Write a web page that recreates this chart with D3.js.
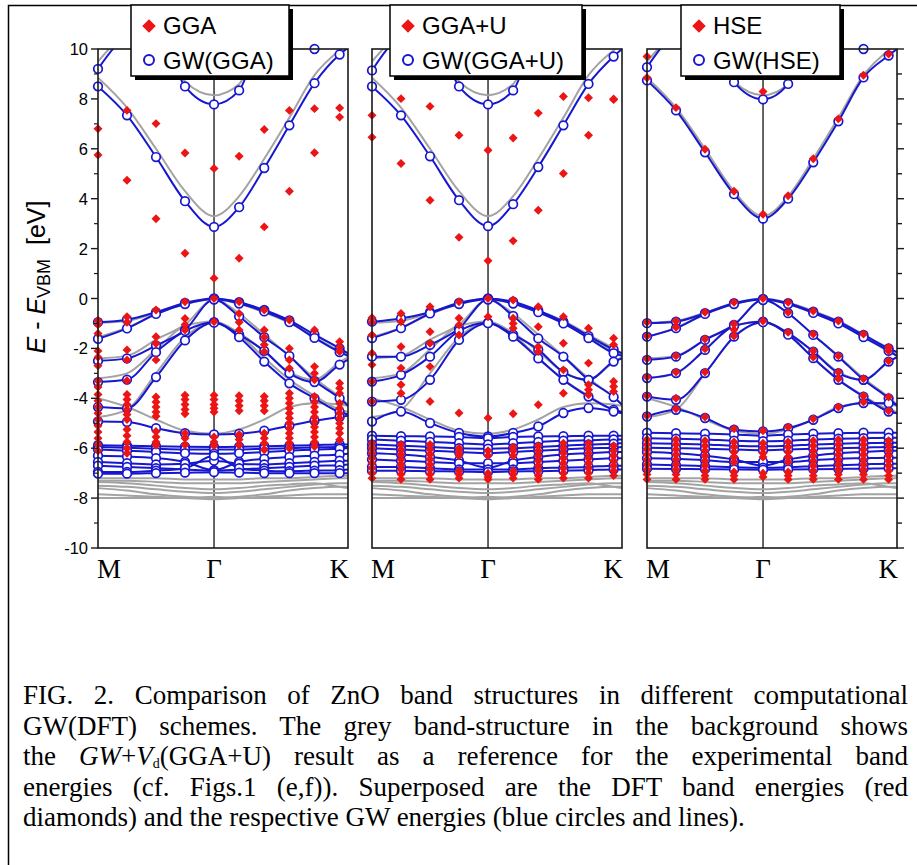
<!DOCTYPE html>
<html>
<head>
<meta charset="utf-8">
<script src="https://cdn.jsdelivr.net/npm/d3@7"></script>
<style>
  body { margin: 0; background: #fff; }
  svg { display: block; }
</style>
</head>
<body>
<div class="chart"></div>
<script>
// ZnO band structures, M - Gamma - K, three GW(DFT) schemes

// k positions along the path (units of |Gamma-M|), last one is K itself
const kpos = [0, 0.25, 0.5, 0.75, 1, 1.2165, 1.433, 1.6495, 1.866, 2.0825, 2.1547]
const kLabels = ['M', 'Γ', 'K']
const kLabelPos = [0, 1, 2.1547]
const yTicks = [-10, -8, -6, -4, -2, 0, 2, 4, 6, 8, 10]
const yMinor = [-9, -7, -5, -3, -1, 1, 3, 5, 7, 9]

// grey background: GW+Vd(GGA+U) reference bands
const refBands = [
  [8.85, 7.65, 6.0, 4.3, 3.3, 4.1, 5.6, 7.25, 8.95, 9.95, 10.2],
  [9.5, 10.6, 10.9, 8.7, 8.15, 8.6, 10.5, 10.9, 10.3, 10.25, 10.2],
  [-0.97, -0.9, -0.57, -0.18, 0, -0.17, -0.5, -0.9, -1.45, -2.0, -2.2],
  [-1.55, -1.17, -0.63, -0.22, -0.03, -0.21, -0.56, -0.98, -1.55, -2.12, -2.3],
  [-2.4, -2.3, -1.65, -1.05, -0.05, -0.6, -1.45, -2.3, -3.2, -3.95, -4.25],
  [-3.2, -3.0, -2.05, -1.1, -0.92, -1.38, -2.12, -2.95, -3.25, -2.55, -2.35],
  [-4.75, -4.45, -3.0, -1.55, -0.94, -1.45, -2.38, -3.25, -3.9, -4.45, -4.55],
  [-4.0, -4.35, -4.85, -5.3, -5.42, -5.25, -4.85, -4.35, -4.2, -4.25, -4.3],
  [-7.2, -7.2, -7.2, -7.25, -7.25, -7.25, -7.2, -7.2, -7.15, -7.1, -7.1],
  [-7.3, -7.3, -7.35, -7.4, -7.4, -7.4, -7.35, -7.3, -7.25, -7.2, -7.2],
  [-7.35, -7.4, -7.5, -7.6, -7.65, -7.6, -7.5, -7.45, -7.4, -7.55, -7.6],
  [-7.5, -7.55, -7.65, -7.75, -7.8, -7.75, -7.65, -7.55, -7.45, -7.4, -7.4],
  [-7.6, -7.7, -7.85, -7.95, -8.0, -7.95, -7.85, -7.7, -7.6, -7.55, -7.55],
  [-7.85, -7.9, -7.95, -8.0, -8.05, -8.0, -7.95, -7.9, -7.85, -7.85, -7.85],
  [-8.0, -8.0, -8.0, -8.0, -7.95, -8.0, -8.0, -8.0, -8.0, -8.0, -8.0]
]

// GW(GGA) bands (blue)
const ggaGW = [
  [8.5, 7.34, 5.67, 3.9, 2.87, 3.66, 5.23, 6.94, 8.63, 9.78, 10.05],
  [9.2, 10.5, 10.8, 8.5, 7.78, 8.34, 10.6, 10.8, 10.0, 10.3, 10.2],
  [-0.95, -0.85, -0.55, -0.18, 0, -0.15, -0.46, -0.88, -1.45, -2.0, -2.2],
  [-1.62, -1.2, -0.62, -0.22, -0.02, -0.2, -0.52, -0.95, -1.58, -2.15, -2.3],
  [-2.5, -2.4, -1.88, -1.26, -0.04, -0.72, -1.55, -2.3, -3.3, -4.0, -4.3],
  [-3.35, -3.25, -2.15, -1.3, -0.95, -1.45, -2.1, -3.0, -3.35, -2.65, -2.45],
  [-4.35, -4.4, -3.15, -1.68, -0.97, -1.55, -2.53, -3.4, -4.0, -4.55, -4.65],
  [-4.93, -4.95, -5.2, -5.4, -5.45, -5.42, -5.3, -5.1, -4.9, -4.75, -4.7],
  [-5.88, -5.9, -5.92, -5.94, -5.95, -5.94, -5.92, -5.9, -5.88, -5.85, -5.85],
  [-5.95, -5.98, -6.02, -6.05, -6.05, -6.05, -6.02, -6.0, -5.97, -5.95, -5.95],
  [-6.05, -6.1, -6.15, -6.2, -6.22, -6.2, -6.15, -6.1, -6.05, -6.02, -6.0],
  [-6.3, -6.33, -6.4, -6.55, -6.88, -6.55, -6.42, -6.35, -6.3, -6.25, -6.22],
  [-6.55, -6.6, -6.65, -6.62, -6.5, -6.62, -6.65, -6.6, -6.55, -6.5, -6.5],
  [-6.7, -6.75, -6.8, -6.85, -6.9, -6.85, -6.8, -6.75, -6.7, -6.68, -6.65],
  [-6.95, -6.95, -6.9, -6.8, -6.3, -6.8, -6.9, -6.92, -6.9, -6.88, -6.85],
  [-7.02, -7.02, -7.0, -6.98, -6.96, -6.98, -7.0, -7.0, -7.0, -7.0, -7.0]
]

// GGA band energies (red), one list per k point
const ggaDFT = [
  [6.8, 5.75, -0.88, -1.05, -1.4, -2.1, -2.35, -2.7, -3.3, -3.55, -3.85, -4.1, -4.35, -4.6, -4.85, -5.1, -5.35, -5.6, -5.85, -6.1],
  [7.54, 4.74, -0.73, -0.95, -2.06, -2.46, -3.3, -3.85, -4.05, -4.25, -4.45, -4.65, -4.85, -5.25, -5.5, -5.75, -6.0, -6.2],
  [7.01, 3.2, -0.46, -1.53, -1.8, -2.46, -3.95, -4.15, -4.35, -4.55, -4.72, -5.33, -5.55, -5.75, -5.88],
  [5.83, 1.81, -0.13, -0.8, -1.05, -1.26, -3.88, -4.05, -4.25, -4.45, -4.62, -5.4, -5.6, -5.86],
  [5.21, 0.81, 0, -0.93, -3.88, -4.05, -4.25, -4.4, -4.55, -5.55, -5.75, -5.9],
  [5.7, 1.61, -0.13, -0.6, -0.95, -1.26, -3.9, -4.1, -4.3, -4.5, -5.45, -5.65, -5.88],
  [6.77, 2.87, -0.46, -1.26, -1.55, -1.85, -2.13, -3.93, -4.1, -4.3, -4.5, -5.4, -5.6, -5.8, -6.06],
  [7.54, 4.3, -0.86, -2.0, -2.46, -2.8, -3.8, -4.0, -4.2, -4.4, -4.6, -4.8, -5.0, -5.2, -5.4, -5.6, -5.8, -6.0],
  [7.61, 5.84, -1.26, -2.73, -3.0, -3.26, -3.93, -4.15, -4.35, -4.55, -4.75, -4.95, -5.15, -5.35, -5.55, -5.75, -5.93],
  [7.64, 7.27, -1.73, -1.95, -2.13, -3.4, -3.6, -3.8, -4.2, -4.4, -4.6, -4.8, -5.0, -5.2, -5.4, -5.66]
]

// GW(GGA+U) bands
const ggauGW = [
  [8.5, 7.34, 5.7, 3.94, 2.9, 3.78, 5.27, 6.94, 8.6, 9.7, 10.0],
  [9.14, 10.5, 10.8, 8.5, 7.78, 8.34, 10.6, 10.8, 10.3, 10.2, 10.2],
  [-0.93, -0.8, -0.55, -0.18, 0, -0.13, -0.48, -0.93, -1.5, -2.05, -2.2],
  [-1.59, -1.19, -0.6, -0.22, -0.02, -0.2, -0.55, -1.0, -1.59, -2.19, -2.3],
  [-2.33, -2.33, -1.86, -1.2, -0.04, -0.7, -1.6, -2.33, -3.26, -3.95, -4.26],
  [-3.33, -3.06, -2.33, -1.3, -0.97, -1.45, -2.05, -2.95, -3.26, -2.53, -2.4],
  [-4.13, -4.06, -3.26, -1.66, -0.99, -1.53, -2.4, -3.26, -3.93, -4.46, -4.55],
  [-4.93, -4.53, -4.99, -5.39, -5.53, -5.39, -5.13, -4.59, -4.39, -4.53, -4.6],
  [-5.5, -5.52, -5.53, -5.55, -5.6, -5.55, -5.53, -5.52, -5.5, -5.5, -5.5],
  [-5.65, -5.7, -5.75, -5.8, -5.85, -5.8, -5.75, -5.7, -5.68, -5.65, -5.65],
  [-5.85, -5.9, -5.95, -6.0, -6.02, -6.0, -5.95, -5.9, -5.85, -5.82, -5.8],
  [-6.0, -6.05, -6.1, -6.15, -6.2, -6.15, -6.1, -6.05, -6.0, -5.98, -5.95],
  [-6.2, -6.25, -6.35, -6.5, -6.78, -6.5, -6.35, -6.25, -6.2, -6.15, -6.15],
  [-6.45, -6.5, -6.55, -6.6, -6.6, -6.6, -6.55, -6.5, -6.45, -6.4, -6.4],
  [-6.75, -6.75, -6.8, -6.85, -6.85, -6.85, -6.8, -6.78, -6.75, -6.7, -6.7],
  [-6.9, -6.9, -6.92, -6.93, -6.95, -6.93, -6.92, -6.9, -6.88, -6.85, -6.85]
]

// GGA+U band energies
const ggauDFT = [
  [7.34, 6.46, -0.77, -0.95, -1.46, -2.19, -2.66, -3.33, -4.13, -5.8, -6.0, -6.2, -6.4, -6.6, -6.8, -7.0, -7.2],
  [8.01, 5.41, -0.6, -0.93, -1.93, -2.79, -3.46, -3.8, -5.85, -6.05, -6.25, -6.45, -6.65, -6.85, -7.05, -7.25],
  [7.7, 3.94, -0.33, -1.33, -1.79, -2.73, -4.13, -5.85, -6.05, -6.25, -6.45, -6.65, -6.85, -7.05, -7.25],
  [6.54, 2.45, -0.13, -0.79, -1.06, -1.46, -4.59, -6.0, -6.15, -6.3, -6.9, -7.05, -7.2],
  [5.94, 1.51, 0, -0.73, -4.79, -6.1, -6.3, -7.0, -7.15, -7.25],
  [6.43, 2.31, -0.06, -0.79, -1.0, -1.19, -4.62, -5.95, -6.1, -6.3, -6.9, -7.05, -7.2],
  [7.43, 3.54, -0.33, -1.13, -1.93, -2.13, -4.26, -5.9, -6.1, -6.3, -6.5, -6.7, -6.9, -7.1, -7.25],
  [8.1, 5.01, -0.73, -1.79, -2.86, -3.8, -5.8, -6.0, -6.2, -6.4, -6.6, -6.8, -7.0, -7.2],
  [8.05, 6.54, -1.19, -2.59, -3.46, -3.66, -3.86, -5.8, -6.0, -6.2, -6.4, -6.6, -6.8, -7.0, -7.2],
  [7.97, 8.0, -1.59, -1.85, -3.33, -3.53, -3.73, -5.9, -6.1, -6.3, -6.5, -6.7, -6.9, -7.1]
]

// GW(HSE) bands
const hseGW = [
  [8.74, 7.54, 5.86, 4.18, 3.2, 4.0, 5.46, 7.1, 8.86, 9.74, 10.0],
  [9.27, 10.6, 10.9, 8.67, 7.98, 8.6, 10.6, 10.8, 10.0, 10.3, 10.2],
  [-0.99, -0.93, -0.59, -0.19, -0.02, -0.19, -0.53, -0.93, -1.46, -2.0, -2.15],
  [-1.53, -1.19, -0.62, -0.22, -0.04, -0.22, -0.58, -1.0, -1.55, -2.1, -2.3],
  [-2.46, -2.33, -1.66, -1.06, -0.06, -0.59, -1.46, -2.33, -3.26, -4.0, -4.3],
  [-3.19, -2.99, -2.06, -1.1, -0.93, -1.39, -2.13, -2.99, -3.26, -2.53, -2.35],
  [-3.93, -4.06, -2.99, -1.53, -0.95, -1.45, -2.39, -3.26, -3.93, -4.53, -4.6],
  [-4.73, -4.46, -4.79, -5.26, -5.33, -5.2, -4.86, -4.39, -4.19, -4.2, -4.25],
  [-5.38, -5.4, -5.42, -5.45, -5.5, -5.45, -5.42, -5.4, -5.38, -5.38, -5.38],
  [-5.6, -5.62, -5.65, -5.7, -5.72, -5.7, -5.65, -5.62, -5.6, -5.58, -5.58],
  [-5.8, -5.82, -5.85, -5.9, -5.92, -5.9, -5.85, -5.82, -5.8, -5.78, -5.78],
  [-5.98, -6.0, -6.02, -6.05, -6.08, -6.05, -6.02, -6.0, -5.98, -5.95, -5.95],
  [-6.15, -6.2, -6.3, -6.45, -6.7, -6.45, -6.3, -6.2, -6.15, -6.1, -6.1],
  [-6.4, -6.42, -6.48, -6.55, -6.55, -6.55, -6.48, -6.42, -6.4, -6.38, -6.38],
  [-6.65, -6.68, -6.72, -6.76, -6.78, -6.76, -6.72, -6.68, -6.65, -6.62, -6.62],
  [-6.82, -6.83, -6.84, -6.85, -6.86, -6.85, -6.84, -6.83, -6.82, -6.8, -6.8]
]

// HSE band energies
const hseDFT = [
  [8.85, 9.7, -0.95, -1.5, -2.42, -3.15, -3.9, -4.7, -5.65, -5.85, -6.05, -6.25, -6.45, -6.65, -6.85, -7.05, -7.25],
  [7.65, -0.9, -1.15, -2.3, -2.95, -4.0, -4.42, -5.65, -5.85, -6.05, -6.25, -6.45, -6.65, -6.85, -7.05, -7.25],
  [5.98, -0.55, -1.62, -2.02, -2.95, -4.75, -5.7, -5.9, -6.1, -6.3, -6.5, -6.7, -6.9, -7.1, -7.25],
  [4.3, -0.15, -1.02, -1.25, -1.5, -5.22, -5.75, -5.95, -6.15, -6.35, -6.55, -6.95, -7.1, -7.25],
  [3.38, 8.3, 0, -0.9, -5.3, -5.8, -6.0, -6.2, -6.35, -7.0, -7.15],
  [4.12, -0.15, -0.55, -1.35, -5.15, -5.75, -5.95, -6.15, -6.35, -6.55, -6.95, -7.1, -7.25],
  [5.6, -0.5, -1.42, -2.1, -2.35, -4.82, -5.7, -5.9, -6.1, -6.3, -6.5, -6.7, -6.9, -7.1, -7.25],
  [7.2, -0.9, -2.3, -2.95, -3.22, -4.35, -5.65, -5.85, -6.05, -6.25, -6.45, -6.65, -6.85, -7.05, -7.25],
  [8.95, -1.42, -3.22, -3.9, -4.15, -5.65, -5.85, -6.05, -6.25, -6.45, -6.65, -6.85, -7.05, -7.25],
  [9.8, -1.95, -2.1, -2.5, -3.95, -4.5, -5.7, -5.9, -6.1, -6.3, -6.5, -6.7, -6.9, -7.1, -7.25]
]

const dftNames = ['GGA', 'GGA+U', 'HSE']
const gwNames = ['GW(GGA)', 'GW(GGA+U)', 'GW(HSE)']

const caption = [
  [{t: 'FIG. 2. Comparison of ZnO band structures in different computational'}],
  [{t: 'GW(DFT) schemes. The grey band-structure in the background shows'}],
  [{t: 'the '}, {t: 'GW', i: true}, {t: '+'}, {t: 'V', i: true}, {t: 'd', sub: true},
   {t: '(GGA+U) result as a reference for the experimental band'}],
  [{t: 'energies (cf. Figs.1 (e,f)). Superposed are the DFT band energies (red'}],
  [{t: 'diamonds) and the respective GW energies (blue circles and lines).'}]
]

const BLUE = '#1717cf'
const RED = '#ec1515'
const GREY = '#a3a3a3'
const SANS = '"Liberation Sans", Arial, sans-serif'
const SERIF = '"Liberation Serif", "Times New Roman", serif'

const svgWidth = 917
const svgHeight = 865
const panelW = 250
const panelH = 499
const panelTop = 49
const panelLefts = [98, 372, 647]
const legendBoxes = [
  {x: 131, w: 158},
  {x: 390, w: 192},
  {x: 681, w: 159}
]

const svg = d3.select('.chart')
  .append('svg')
  .attr('width', svgWidth)
  .attr('height', svgHeight)

svg.append('rect').attr('width', svgWidth).attr('height', svgHeight).attr('fill', '#fff')

// outer figure frame (top and left edges only are visible)
svg.append('path')
  .attr('d', `M8.5,${svgHeight} V5.5 H${svgWidth}`)
  .attr('fill', 'none')
  .attr('stroke', '#000')
  .attr('stroke-width', 1.5)

const xScale = d3.scaleLinear().domain([0, 2.1547]).range([0, panelW])
const yScale = d3.scaleLinear().domain([-10, 10]).range([panelH, 0])

const bandLine = d3.line()
  .x((d, i) => xScale(kpos[i]))
  .y(d => yScale(d))
  .curve(d3.curveMonotoneX)

const diamond = d3.symbol().type(d3.symbolSquare).size(40)
const bigDiamond = d3.symbol().type(d3.symbolSquare).size(92)

const gwSets = [ggaGW, ggauGW, hseGW]
const dftSets = [ggaDFT, ggauDFT, hseDFT]

gwSets.forEach((gw, p) => {
  const dft = dftSets[p]
  const g = svg.append('g')
    .attr('transform', `translate(${panelLefts[p]}, ${panelTop})`)

  g.append('clipPath').attr('id', `clip${p}`)
    .append('rect').attr('width', panelW).attr('height', panelH)

  // Gamma line
  g.append('line')
    .attr('x1', xScale(1)).attr('x2', xScale(1))
    .attr('y1', 0).attr('y2', panelH)
    .attr('stroke', '#111').attr('stroke-width', 1.3)

  const lines = g.append('g').attr('clip-path', `url(#clip${p})`)

  lines.selectAll('.ref')
    .data(refBands)
    .enter()
    .append('path')
    .attr('d', bandLine)
    .attr('fill', 'none')
    .attr('stroke', GREY)
    .attr('stroke-width', 2)

  lines.selectAll('.gw')
    .data(gw)
    .enter()
    .append('path')
    .attr('d', bandLine)
    .attr('fill', 'none')
    .attr('stroke', BLUE)
    .attr('stroke-width', 2)

  // circles on the k mesh (K itself is not a mesh point)
  const circles = []
  gw.forEach(band => band.slice(0, 10).forEach((e, i) => {
    if (e <= 10.1) circles.push({k: kpos[i], e: e})
  }))
  g.selectAll('circle')
    .data(circles)
    .enter()
    .append('circle')
    .attr('cx', d => xScale(d.k))
    .attr('cy', d => yScale(d.e))
    .attr('r', 4.3)
    .attr('fill', '#fff')
    .attr('stroke', BLUE)
    .attr('stroke-width', 1.7)

  const reds = []
  dft.forEach((col, i) => col.forEach(e => reds.push({k: kpos[i], e: e})))
  g.selectAll('.dft')
    .data(reds)
    .enter()
    .append('path')
    .attr('d', diamond)
    .attr('transform', d => `translate(${xScale(d.k)}, ${yScale(d.e)}) rotate(45)`)
    .attr('fill', RED)

  // panel frame
  g.append('rect')
    .attr('width', panelW).attr('height', panelH)
    .attr('fill', 'none')
    .attr('stroke', '#1a1a1a')
    .attr('stroke-width', 1.6)

  // k labels
  kLabels.forEach((lab, i) => {
    g.append('text')
      .attr('x', xScale(kLabelPos[i]) + (i === 0 ? -1 : i === 2 ? 1 : 0))
      .attr('y', 529)
      .attr('text-anchor', i === 0 ? 'start' : i === 2 ? 'end' : 'middle')
      .attr('font-family', SERIF)
      .attr('font-size', '27px')
      .text(lab)
  })

  // legend with drop shadow
  const lb = legendBoxes[p]
  const lg = svg.append('g')
  lg.append('rect')
    .attr('x', lb.x + 4).attr('y', 9)
    .attr('width', lb.w).attr('height', 71)
    .attr('fill', '#000')
  lg.append('rect')
    .attr('x', lb.x).attr('y', 5)
    .attr('width', lb.w).attr('height', 71)
    .attr('fill', '#fff')
    .attr('stroke', '#000')
    .attr('stroke-width', 1.5)
  lg.append('path')
    .attr('d', bigDiamond)
    .attr('transform', `translate(${lb.x + 18}, 26) rotate(45)`)
    .attr('fill', RED)
  lg.append('circle')
    .attr('cx', lb.x + 18).attr('cy', 60)
    .attr('r', 5)
    .attr('fill', '#fff')
    .attr('stroke', BLUE)
    .attr('stroke-width', 2)
  lg.append('text')
    .attr('x', lb.x + 32).attr('y', 34)
    .attr('font-family', SANS).attr('font-size', '24px')
    .text(dftNames[p])
  lg.append('text')
    .attr('x', lb.x + 32).attr('y', 69)
    .attr('font-family', SANS).attr('font-size', '24px')
    .text(gwNames[p])
})

// left energy axis on first panel
const axisG = svg.append('g')
  .attr('transform', `translate(${panelLefts[0]}, ${panelTop})`)
axisG.selectAll('.maj')
  .data(yTicks)
  .enter()
  .append('line')
  .attr('x1', -7).attr('x2', 0)
  .attr('y1', d => yScale(d)).attr('y2', d => yScale(d))
  .attr('stroke', '#1a1a1a').attr('stroke-width', 1.4)
axisG.selectAll('.min')
  .data(yMinor)
  .enter()
  .append('line')
  .attr('x1', -4).attr('x2', 0)
  .attr('y1', d => yScale(d)).attr('y2', d => yScale(d))
  .attr('stroke', '#1a1a1a').attr('stroke-width', 1.2)
axisG.selectAll('.lab')
  .data(yTicks)
  .enter()
  .append('text')
  .attr('x', -10)
  .attr('y', d => yScale(d) + 6)
  .attr('text-anchor', 'end')
  .attr('font-family', SANS)
  .attr('font-size', '16.5px')
  .text(d => d)

// right ticks on the last panel
const rightG = svg.append('g')
  .attr('transform', `translate(${panelLefts[2] + panelW}, ${panelTop})`)
rightG.selectAll('line')
  .data(yTicks.concat(yMinor))
  .enter()
  .append('line')
  .attr('x1', 0).attr('x2', d => yTicks.includes(d) ? 7 : 5)
  .attr('y1', d => yScale(d)).attr('y2', d => yScale(d))
  .attr('stroke', '#1a1a1a').attr('stroke-width', 1.4)

// y axis title
const yTitle = svg.append('text')
  .attr('transform', 'translate(45, 277) rotate(-90)')
  .attr('text-anchor', 'middle')
  .attr('font-family', SANS)
  .attr('font-size', '25px')
yTitle.append('tspan').attr('font-style', 'italic').text('E')
yTitle.append('tspan').text(' - ')
yTitle.append('tspan').attr('font-style', 'italic').text('E')
yTitle.append('tspan').attr('font-size', '18px').attr('dy', 5).text('VBM')
yTitle.append('tspan').attr('dy', -5).text('\u00a0\u00a0[eV]')

// caption, justified except the last line
const capLeft = 23
const capWidth = 885
caption.forEach((segs, li) => {
  const t = svg.append('text')
    .attr('x', capLeft)
    .attr('y', 704 + li * 30.5)
    .attr('font-family', SERIF)
    .attr('font-size', '27px')
  let shifted = false
  segs.forEach(s => {
    const ts = t.append('tspan').text(s.t)
    if (s.i) ts.attr('font-style', 'italic')
    if (s.sub) {
      ts.attr('font-size', '14px').attr('dy', 3)
      shifted = true
    } else if (shifted) {
      ts.attr('dy', -3)
      shifted = false
    }
  })
  if (li < caption.length - 1) {
    const full = segs.map(s => s.t).join('')
    const spaces = full.split(' ').length - 1
    const w = t.node().getComputedTextLength()
    t.attr('word-spacing', (capWidth - w) / spaces)
  }
})
</script>
</body>
</html>
